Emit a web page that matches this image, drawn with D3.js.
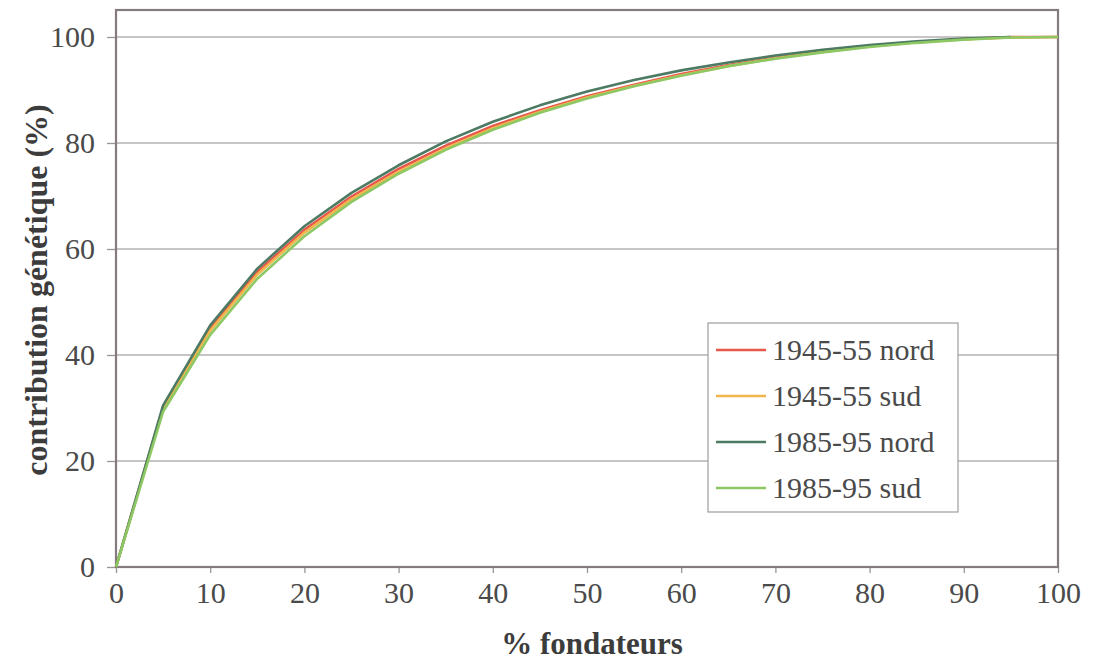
<!DOCTYPE html>
<html>
<head>
<meta charset="utf-8">
<script src="https://cdn.jsdelivr.net/npm/d3@7"></script>
<style>
  html, body { margin: 0; padding: 0; background: #ffffff; }
  svg { display: block; font-family: "Liberation Serif", "Times New Roman", serif; }
</style>
</head>
<body>
<svg id="chart" width="1096" height="664"></svg>
<script>
// % of founders (cumulative) and the genetic contribution they account for
const founders = [0, 5, 10, 15, 20, 25, 30, 35, 40, 45, 50, 55, 60, 65, 70, 75, 80, 85, 90, 95, 100];
const nord1945 = [0, 30.2, 45.0, 55.7, 63.6, 69.9, 75.1, 79.5, 83.2, 86.2, 88.8, 91.0, 93.0, 94.7, 96.1, 97.3, 98.3, 99.0, 99.6, 100, 100];
const sud1945  = [0, 30.0, 44.6, 55.2, 63.1, 69.4, 74.6, 79.0, 82.8, 85.9, 88.6, 90.8, 92.8, 94.5, 96.0, 97.2, 98.2, 99.0, 99.6, 99.9, 100];
const nord1985 = [0, 30.5, 45.6, 56.3, 64.3, 70.6, 75.8, 80.3, 84.0, 87.1, 89.7, 91.9, 93.7, 95.2, 96.5, 97.6, 98.5, 99.2, 99.7, 100];
const sud1985  = [0, 29.3, 43.8, 54.4, 62.4, 68.9, 74.2, 78.7, 82.5, 85.7, 88.4, 90.7, 92.7, 94.5, 95.9, 97.1, 98.1, 98.9, 99.5, 99.9, 100];

const seriesNames  = ["1945-55 nord", "1945-55 sud", "1985-95 nord", "1985-95 sud"];
const seriesValues = [nord1945, sud1945, nord1985, sud1985];
const seriesColors = ["#e8574c", "#f0b54c", "#4d7a62", "#8dc864"];

const xTicks = [0, 10, 20, 30, 40, 50, 60, 70, 80, 90, 100];
const yTicks = [0, 20, 40, 60, 80, 100];

const svg = d3.select("#chart");
const serif = "'Liberation Serif', 'Times New Roman', serif";

const plotLeft = 116, plotRight = 1058, plotTop = 10, plotBottom = 567;
const x = d3.scaleLinear().domain([0, 100]).range([plotLeft, plotRight]);
const y = d3.scaleLinear().domain([0, 100]).range([plotBottom, 37]);

// horizontal gridlines
svg.append("g")
  .selectAll("line")
  .data(yTicks.filter(d => d > 0))
  .join("line")
  .attr("x1", plotLeft).attr("x2", plotRight)
  .attr("y1", d => y(d)).attr("y2", d => y(d))
  .attr("stroke", "#b4b0b2")
  .attr("stroke-width", 1.3);

// y axis ticks and labels
const yAxis = svg.append("g")
  .attr("transform", `translate(${plotLeft},0)`)
  .call(d3.axisLeft(y).tickValues(yTicks).tickSize(9).tickPadding(12).tickFormat(d3.format("d")));
yAxis.attr("font-family", serif).attr("font-size", 30);
yAxis.select(".domain").remove();
yAxis.selectAll(".tick line").attr("stroke", "#9a9498").attr("stroke-width", 1.3);
yAxis.selectAll(".tick text").attr("fill", "#4a4a4a");

// x axis ticks and labels
const xAxis = svg.append("g")
  .attr("transform", `translate(0,${plotBottom})`)
  .call(d3.axisBottom(x).tickValues(xTicks).tickSize(6).tickPadding(9).tickFormat(d3.format("d")));
xAxis.attr("font-family", serif).attr("font-size", 30);
xAxis.select(".domain").remove();
xAxis.selectAll(".tick line").attr("stroke", "#9a9498").attr("stroke-width", 1.3);
xAxis.selectAll(".tick text").attr("fill", "#4a4a4a");

// plot frame
svg.append("rect")
  .attr("x", plotLeft).attr("y", plotTop)
  .attr("width", plotRight - plotLeft).attr("height", plotBottom - plotTop)
  .attr("fill", "none")
  .attr("stroke", "#857a80")
  .attr("stroke-width", 2.2);

// curves
const line = d3.line()
  .x((d, i) => x(founders[i]))
  .y(d => y(d));

svg.append("g")
  .selectAll("path")
  .data(seriesValues)
  .join("path")
  .attr("d", d => line(d))
  .attr("fill", "none")
  .attr("stroke", (d, i) => seriesColors[i])
  .attr("stroke-width", 2.6)
  .attr("stroke-linejoin", "round");

// axis titles
svg.append("text")
  .attr("x", 592)
  .attr("y", 654)
  .attr("text-anchor", "middle")
  .attr("fill", "#3c3c3c")
  .style("font-size", "31px")
  .style("font-weight", "bold")
  .text("% fondateurs");

svg.append("text")
  .attr("transform", `translate(47,290) rotate(-90)`)
  .attr("text-anchor", "middle")
  .attr("fill", "#3c3c3c")
  .style("font-size", "32px")
  .style("font-weight", "bold")
  .text("contribution génétique (%)");

// legend
const legend = svg.append("g").attr("transform", "translate(708,323)");
legend.append("rect")
  .attr("width", 250).attr("height", 189)
  .attr("fill", "#ffffff")
  .attr("stroke", "#a8a4a6")
  .attr("stroke-width", 1.3);

const items = legend.selectAll("g.item")
  .data(seriesNames)
  .join("g")
  .attr("class", "item")
  .attr("transform", (d, i) => `translate(0,${27 + i * 46})`);
items.append("line")
  .attr("x1", 8).attr("x2", 58)
  .attr("stroke", (d, i) => seriesColors[i])
  .attr("stroke-width", 2.4);
items.append("text")
  .attr("x", 64).attr("y", 10)
  .attr("fill", "#4a4a4a")
  .style("font-size", "30px")
  .text(d => d);
</script>
</body>
</html>
